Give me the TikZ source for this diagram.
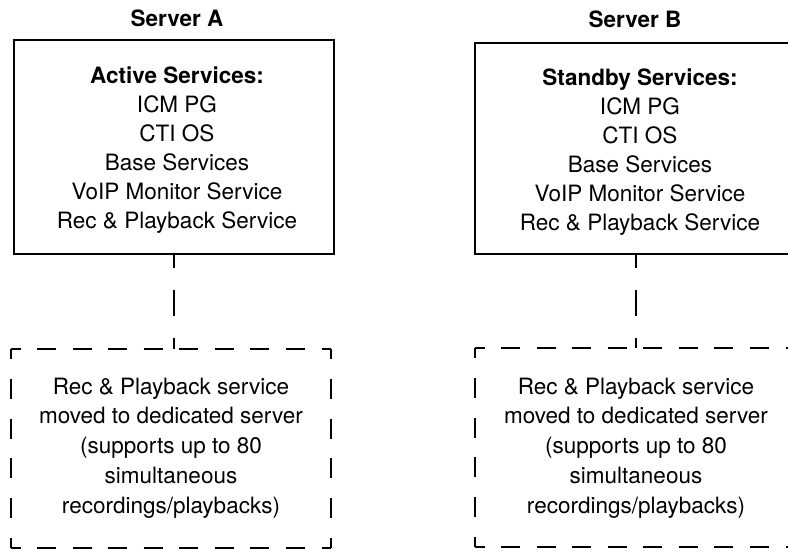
\documentclass[tikz,border=0pt]{standalone}
\usepackage{fontspec}
\setmainfont{TeX Gyre Heros}
\begin{document}
\begin{tikzpicture}[x=1pt,y=-1pt,
  servertitle/.style={font=\fontsize{22.5pt}{29pt}\selectfont\bfseries, inner sep=0pt, anchor=base},
  serverbox/.style={draw, line width=2.4pt, inner sep=0pt, anchor=north west},
  svclist/.style={font=\fontsize{22.5pt}{29pt}\selectfont, align=center, inner sep=0pt, anchor=base},
  reclist/.style={font=\fontsize{22.5pt}{29.75pt}\selectfont, align=center, inner sep=0pt, anchor=base},
  recbox/.style={inner sep=0pt, minimum width=320pt, minimum height=199pt, anchor=north west},
  hdash/.style={line width=2pt, dash pattern=on 19pt off 16.56pt, dash phase=9.5pt},
  vdash/.style={line width=2pt, dash pattern=on 20pt off 19.8pt, dash phase=10pt},
  link/.style={line width=1.8pt, dash pattern=on 26pt off 22pt, dash phase=13pt}]
\useasboundingbox (0,0) rectangle (788,552);
\clip (0,0) rectangle (788,552);

% titles
\node[servertitle] (titleA) at (177,26) {Server A};
\node[servertitle] (titleB) at (635,27) {Server B};

% server boxes
\node[serverbox, minimum width=320pt, minimum height=214pt] (boxA) at (13,39) {};
\node[serverbox, minimum width=321pt, minimum height=211pt] (boxB) at (474,42) {};

% service lists (anchored on the baseline of the last line)
\node[svclist] (listA) at (177,228) {\textbf{Active Services:}\\ICM PG\\CTI OS\\Base Services\\VoIP Monitor Service\\Rec \& Playback Service};
\node[svclist] (listB) at (640,230) {\textbf{Standby Services:}\\ICM PG\\CTI OS\\Base Services\\VoIP Monitor Service\\Rec \& Playback Service};

% dedicated recording servers
\node[recbox] (recA) at (11,349) {};
\node[recbox] (recB) at (475,348) {};

\foreach \r in {recA,recB}{
  \draw[hdash] (\r.north west) -- (\r.north east);
  \draw[hdash] (\r.south west) -- (\r.south east);
  \draw[vdash] (\r.north west) -- (\r.south west);
  \draw[vdash] (\r.north east) -- (\r.south east);
}

\node[reclist] (recTextA) at (171,513) {Rec \& Playback service\\moved to dedicated server\\(supports up to 80\\simultaneous\\recordings/playbacks)};
\node[reclist] (recTextB) at (636,513) {Rec \& Playback service\\moved to dedicated server\\(supports up to 80\\simultaneous\\recordings/playbacks)};

% links
\draw[link] (boxA.south) -- (boxA.south |- recA.north);
\draw[link] (boxB.south) -- (boxB.south |- recB.north);
\end{tikzpicture}
\end{document}
